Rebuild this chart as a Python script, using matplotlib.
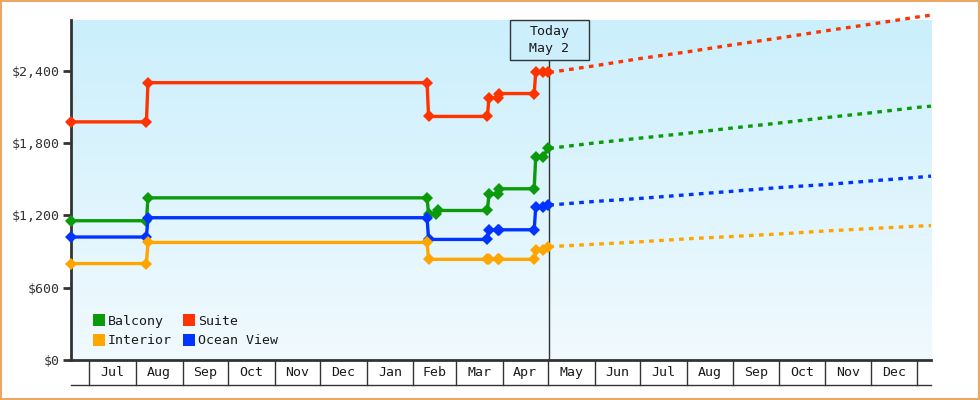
import datetime as dt
import numpy as np
import matplotlib
matplotlib.use('Agg')
import matplotlib.pyplot as plt
import matplotlib.dates as mdates
import matplotlib.transforms as mtransforms
from matplotlib.patches import Rectangle
from matplotlib.lines import Line2D
from matplotlib.colors import LinearSegmentedColormap
from matplotlib.ticker import FuncFormatter

plt.rcParams['font.family'] = 'DejaVu Sans Mono'

d = dt.date

# price history (points where prices changed)
hist_dates = [d(2024, 6, 19), d(2024, 8, 8), d(2024, 8, 9), d(2025, 2, 10), d(2025, 2, 11),
              d(2025, 3, 22), d(2025, 3, 23), d(2025, 3, 29), d(2025, 3, 30),
              d(2025, 4, 22), d(2025, 4, 23), d(2025, 4, 28), d(2025, 5, 1)]
balcony_dates = hist_dates[:5] + [d(2025, 2, 16), d(2025, 2, 17)] + hist_dates[5:]

balcony = [1155, 1155, 1345, 1345, 1210, 1210, 1240, 1240, 1375, 1375, 1420, 1420, 1685, 1685, 1755]
suite = [1975, 1975, 2300, 2300, 2020, 2020, 2175, 2175, 2210, 2210, 2385, 2385, 2385]
ocean_view = [1020, 1020, 1180, 1180, 1000, 1000, 1080, 1080, 1080, 1080, 1265, 1265, 1285]
interior = [800, 800, 975, 975, 835, 835, 835, 835, 835, 835, 910, 910, 940]

# projected prices
proj_dates = [d(2025, 5, 2), d(2025, 6, 1), d(2025, 7, 1), d(2025, 8, 1), d(2025, 9, 1),
              d(2025, 10, 1), d(2025, 11, 1), d(2025, 12, 1), d(2026, 1, 1), d(2026, 1, 10)]
suite_proj = [2385, 2440, 2500, 2555, 2615, 2670, 2730, 2785, 2845, 2860]
balcony_proj = [1755, 1800, 1840, 1880, 1925, 1965, 2010, 2050, 2095, 2105]
ocean_proj = [1285, 1315, 1340, 1370, 1400, 1430, 1455, 1485, 1515, 1525]
interior_proj = [940, 960, 980, 1005, 1025, 1045, 1070, 1090, 1110, 1115]

today = d(2025, 5, 2)
x_start, x_end = d(2024, 6, 19), d(2026, 1, 10)
y_ticks = [0, 600, 1200, 1800, 2400]

colors = {'Balcony': '#0A9A0A', 'Suite': '#FF3300', 'Interior': '#FFA500', 'Ocean View': '#0033FF'}
dark = '#333333'

fig = plt.figure(figsize=(9.8, 4), dpi=100)
ax = fig.add_axes([71 / 980, 40 / 400, 860 / 980, 340 / 400])

# background gradient
cmap = LinearSegmentedColormap.from_list('bg', ['#CBEFFC', '#F1FAFE'])
ax.imshow(np.linspace(0, 1, 256).reshape(-1, 1), cmap=cmap, extent=[0, 1, 0, 1],
          transform=ax.transAxes, aspect='auto', zorder=0)

series = [
    ('Suite', hist_dates, suite, suite_proj),
    ('Balcony', balcony_dates, balcony, balcony_proj),
    ('Ocean View', hist_dates, ocean_view, ocean_proj),
    ('Interior', hist_dates, interior, interior_proj),
]
for name, dates, vals, proj in series:
    c = colors[name]
    ax.plot(dates, vals, color=c, lw=2.4, marker='D', ms=6.5, mew=0, clip_on=False, zorder=3)
    ax.plot(proj_dates, proj, color=c, lw=2.4, linestyle=(0, (1.4, 1.6)), clip_on=False, zorder=3)

ax.set_xlim(x_start, x_end)
ax.set_ylim(0, 2820)
ax.set_xticks([])
ax.set_yticks(y_ticks)
ax.yaxis.set_major_formatter(FuncFormatter(lambda v, p: '${:,.0f}'.format(v)))
ax.tick_params(axis='y', length=6, width=2, color=dark, labelsize=9.5, labelcolor=dark, pad=2)

for s in ['top', 'right']:
    ax.spines[s].set_visible(False)
for s in ['left', 'bottom']:
    ax.spines[s].set_color(dark)
    ax.spines[s].set_linewidth(2)

# month band under the axis
trans = mtransforms.blended_transform_factory(ax.transData, ax.transAxes)
band = 25 / 340
months = []
y, m = x_start.year, x_start.month
while True:
    m += 1
    if m > 12:
        y, m = y + 1, 1
    if d(y, m, 1) > x_end:
        break
    months.append(d(y, m, 1))
for mo in months:
    xm = mdates.date2num(mo)
    ax.plot([xm, xm], [0, -band], transform=trans, color=dark, lw=1, clip_on=False)
for a, b in zip(months[:-1], months[1:]):
    mid = (mdates.date2num(a) + mdates.date2num(b)) / 2
    ax.text(mid, -band / 2, a.strftime('%b'), transform=trans, ha='center', va='center',
            fontsize=9.5, color='#1a1a1a')
ax.plot([0, 1], [-band, -band], transform=ax.transAxes, color=dark, lw=1, clip_on=False)

# today marker
t = mdates.date2num(today)
box_h = 40 / 340
ax.plot([t, t], [0, 1 - box_h], transform=trans, color=dark, lw=1, zorder=2.5)
ax.add_patch(Rectangle((t - 26.2, 1 - box_h), 52.4, box_h, transform=trans,
                       facecolor='#CDEFFC', edgecolor=dark, lw=1, clip_on=False, zorder=5))
ax.text(t, 1 - box_h / 2, 'Today\n' + today.strftime('%b ') + str(today.day), transform=trans,
        ha='center', va='center', fontsize=9.5, color='#1a1a1a', linespacing=1.4, zorder=6)

# legend
order = ['Balcony', 'Interior', 'Suite', 'Ocean View']
handles = [Line2D([], [], marker='s', ls='none', ms=8, mew=0, color=colors[n]) for n in order]
ax.legend(handles, order, ncol=2, loc='lower left', bbox_to_anchor=(0.026, 0.037),
          frameon=False, fontsize=9.5, handlelength=0.8, handletextpad=0.3,
          columnspacing=0.9, labelspacing=0.5, borderpad=0, borderaxespad=0,
          labelcolor='#1a1a1a')

# orange frame around the figure
fig.patches.append(Rectangle((0.001, 0.002), 0.998, 0.996, transform=fig.transFigure,
                             fill=False, edgecolor='#EAA862', lw=1.5))

fig.savefig('out.png', dpi=100)
